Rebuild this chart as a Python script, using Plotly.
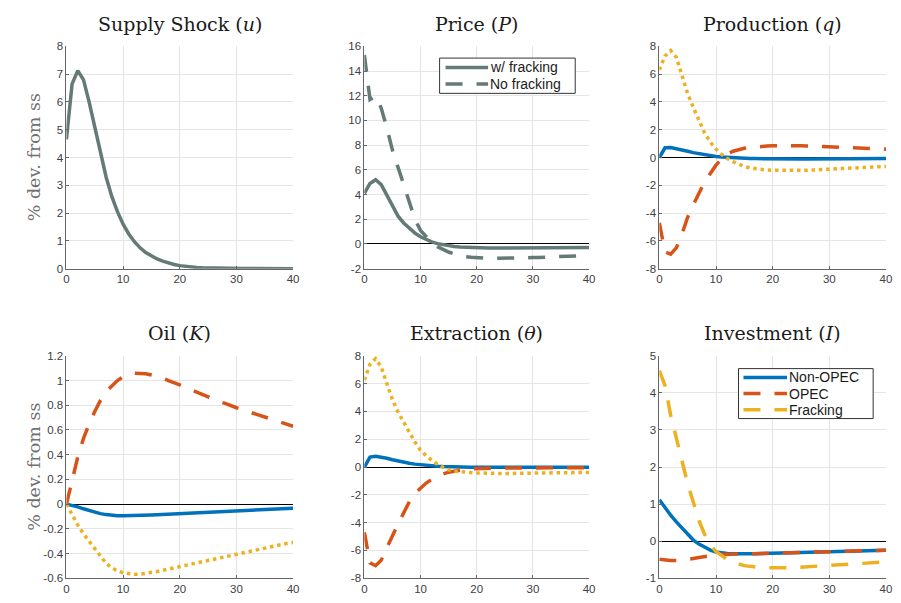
import plotly.graph_objects as go

# ---------------- data ----------------
quarters = list(range(41))

shock_u = [4.65, 6.65, 7.12, 6.8, 6.0, 5.1, 4.15, 3.3, 2.6, 2.05, 1.6, 1.25, 0.97, 0.75, 0.58,
           0.45, 0.35, 0.27, 0.2, 0.15, 0.11, 0.08, 0.06, 0.045, 0.033, 0.025, 0.018, 0.013,
           0.01, 0.008, 0.006, 0.005, 0.004, 0.003, 0.003, 0.002, 0.002, 0.001, 0.001, 0.001, 0.001]

price_frack = [4.1, 4.9, 5.2, 4.8, 3.95, 3.1, 2.25, 1.7, 1.25, 0.88, 0.58, 0.35, 0.17, 0.03, -0.07,
               -0.15, -0.2, -0.24, -0.27, -0.29, -0.31, -0.32, -0.33, -0.33, -0.33, -0.33, -0.33,
               -0.33, -0.33, -0.33, -0.33, -0.32, -0.32, -0.31, -0.31, -0.3, -0.3, -0.29, -0.29,
               -0.28, -0.28]
price_nofrack = [15.3, 11.7, 12.0, 11.0, 9.4, 7.6, 6.2, 4.8, 3.4, 2.0, 1.1, 0.55, 0.1, -0.22, -0.45,
                 -0.65, -0.8, -0.92, -1.02, -1.08, -1.12, -1.15, -1.16, -1.17, -1.17, -1.16, -1.15,
                 -1.14, -1.13, -1.12, -1.1, -1.09, -1.07, -1.06, -1.04, -1.02, -1.0, -0.98, -0.96,
                 -0.94, -0.92]

prod_nonopec = [0.0, 0.7, 0.72, 0.65, 0.55, 0.45, 0.35, 0.27, 0.2, 0.13, 0.08, 0.03, 0.0, -0.03,
                -0.05, -0.06, -0.07, -0.08, -0.09, -0.09, -0.1, -0.1, -0.1, -0.1, -0.1, -0.1, -0.1,
                -0.1, -0.1, -0.09, -0.09, -0.09, -0.09, -0.09, -0.09, -0.08, -0.08, -0.08, -0.08,
                -0.08, -0.08]
prod_opec = [-4.7, -6.8, -6.95, -6.5, -5.5, -4.3, -3.4, -2.5, -1.75, -1.15, -0.55, -0.1, 0.25, 0.45,
             0.58, 0.66, 0.72, 0.77, 0.8, 0.82, 0.84, 0.85, 0.85, 0.85, 0.85, 0.84, 0.83, 0.81, 0.8,
             0.78, 0.76, 0.75, 0.73, 0.71, 0.69, 0.68, 0.66, 0.64, 0.63, 0.61, 0.6]
prod_frack = [6.3, 7.3, 7.7, 7.2, 5.9, 4.6, 3.6, 2.6, 1.75, 1.1, 0.6, 0.22, -0.08, -0.3, -0.5, -0.65,
              -0.75, -0.82, -0.87, -0.9, -0.92, -0.93, -0.94, -0.94, -0.94, -0.93, -0.92, -0.9,
              -0.88, -0.86, -0.84, -0.82, -0.8, -0.78, -0.76, -0.74, -0.72, -0.7, -0.68, -0.66, -0.64]

oil_nonopec = [0.0, -0.008, -0.022, -0.038, -0.053, -0.066, -0.077, -0.085, -0.091, -0.094, -0.095,
               -0.095, -0.094, -0.093, -0.091, -0.089, -0.087, -0.085, -0.082, -0.08, -0.077,
               -0.075, -0.072, -0.07, -0.067, -0.065, -0.062, -0.06, -0.058, -0.055, -0.053,
               -0.051, -0.049, -0.047, -0.045, -0.043, -0.041, -0.039, -0.037, -0.035, -0.033]
oil_opec = [0.0, 0.2, 0.38, 0.53, 0.65, 0.75, 0.84, 0.91, 0.96, 1.0, 1.03, 1.05, 1.06, 1.06, 1.055,
            1.045, 1.035, 1.02, 1.0, 0.985, 0.965, 0.945, 0.925, 0.905, 0.885, 0.865, 0.85, 0.83,
            0.815, 0.795, 0.78, 0.765, 0.75, 0.73, 0.715, 0.7, 0.685, 0.67, 0.655, 0.64, 0.63]
oil_frack = [0.0, -0.09, -0.17, -0.24, -0.3, -0.37, -0.43, -0.48, -0.515, -0.54, -0.555, -0.565,
             -0.568, -0.567, -0.562, -0.555, -0.546, -0.536, -0.526, -0.515, -0.505, -0.495,
             -0.483, -0.472, -0.46, -0.45, -0.44, -0.43, -0.42, -0.41, -0.4, -0.39, -0.38, -0.37,
             -0.36, -0.35, -0.34, -0.333, -0.325, -0.317, -0.31]

ext_nonopec = [0.0, 0.72, 0.78, 0.72, 0.63, 0.53, 0.43, 0.34, 0.27, 0.21, 0.16, 0.12, 0.09, 0.06,
               0.04, 0.02, 0.01, 0.0, 0.0, -0.01, -0.01, -0.01, -0.01, -0.01, -0.01, -0.01, -0.01,
               -0.01, -0.01, -0.01, -0.01, -0.01, -0.01, -0.01, -0.01, -0.01, -0.01, -0.01, -0.01,
               -0.01, -0.01]
ext_opec = [-4.7, -6.9, -7.1, -6.7, -5.8, -4.9, -4.1, -3.3, -2.5, -1.9, -1.5, -1.15, -0.9, -0.68,
            -0.5, -0.37, -0.28, -0.21, -0.16, -0.13, -0.11, -0.1, -0.09, -0.08, -0.08, -0.07, -0.07,
            -0.07, -0.06, -0.06, -0.06, -0.06, -0.05, -0.05, -0.05, -0.05, -0.05, -0.05, -0.05,
            -0.05, -0.05]
ext_frack = [6.25, 7.4, 7.8, 7.2, 6.0, 4.85, 3.95, 3.2, 2.5, 1.8, 1.2, 0.8, 0.5, 0.2, -0.02, -0.2,
             -0.3, -0.35, -0.38, -0.4, -0.42, -0.44, -0.45, -0.46, -0.47, -0.47, -0.46, -0.45,
             -0.44, -0.44, -0.43, -0.43, -0.43, -0.42, -0.42, -0.41, -0.41, -0.4, -0.4, -0.39, -0.39]

inv_nonopec = [1.12, 0.9, 0.7, 0.52, 0.35, 0.18, 0.03, -0.08, -0.17, -0.24, -0.29, -0.32, -0.335,
               -0.34, -0.345, -0.345, -0.343, -0.34, -0.336, -0.332, -0.328, -0.324, -0.32, -0.315,
               -0.31, -0.305, -0.3, -0.295, -0.29, -0.285, -0.28, -0.276, -0.272, -0.268, -0.264,
               -0.26, -0.257, -0.254, -0.251, -0.248, -0.245]
inv_opec = [-0.49, -0.51, -0.52, -0.52, -0.51, -0.49, -0.47, -0.44, -0.41, -0.39, -0.37, -0.36,
            -0.35, -0.345, -0.342, -0.34, -0.34, -0.338, -0.335, -0.332, -0.328, -0.324, -0.32,
            -0.315, -0.31, -0.305, -0.3, -0.295, -0.29, -0.285, -0.28, -0.276, -0.272, -0.268,
            -0.264, -0.26, -0.257, -0.254, -0.251, -0.248, -0.245]
inv_frack = [4.6, 4.2, 3.4, 2.75, 2.1, 1.55, 1.05, 0.55, 0.18, -0.1, -0.28, -0.4, -0.5, -0.57, -0.62,
             -0.66, -0.68, -0.7, -0.71, -0.715, -0.72, -0.725, -0.725, -0.72, -0.71, -0.7, -0.69,
             -0.68, -0.67, -0.66, -0.65, -0.64, -0.63, -0.62, -0.61, -0.6, -0.59, -0.58, -0.575,
             -0.57, -0.56]

panel_titles = ["Supply Shock (<i>u</i>)", "Price (<i>P</i>)", "Production (<i>q</i>)",
                "Oil (<i>K</i>)", "Extraction (<i>θ</i>)", "Investment (<i>I</i>)"]
x_ticks = [0, 10, 20, 30, 40]
y_ticks = [
    [0, 1, 2, 3, 4, 5, 6, 7, 8],
    [-2, 0, 2, 4, 6, 8, 10, 12, 14, 16],
    [-8, -6, -4, -2, 0, 2, 4, 6, 8],
    [-0.6, -0.4, -0.2, 0, 0.2, 0.4, 0.6, 0.8, 1, 1.2],
    [-8, -6, -4, -2, 0, 2, 4, 6, 8],
    [-1, 0, 1, 2, 3, 4, 5],
]
y_tick_labels = [
    ["0", "1", "2", "3", "4", "5", "6", "7", "8"],
    ["-2", "0", "2", "4", "6", "8", "10", "12", "14", "16"],
    ["-8", "-6", "-4", "-2", "0", "2", "4", "6", "8"],
    ["-0.6", "-0.4", "-0.2", "0", "0.2", "0.4", "0.6", "0.8", "1", "1.2"],
    ["-8", "-6", "-4", "-2", "0", "2", "4", "6", "8"],
    ["-1", "0", "1", "2", "3", "4", "5"],
]
y_label = "% dev. from ss"
price_legend = ["w/ fracking", "No fracking"]
country_legend = ["Non-OPEC", "OPEC", "Fracking"]

# ---------------- style ----------------
OFF = 8                      # page body margin of the html page
W, H = 901 - 2 * OFF, 603 - 2 * OFF
GRAY = "rgb(99,122,119)"
BLUE = "#0072BD"
ORANGE = "#D95319"
YELLOW = "#EDB120"
LW = 3.5
DASH = "17px,14px"
DOT = "3.5px,3.8px"

col_px = [(64, 293), (365, 592), (663, 892)]
row_px = [(41, 268), (357, 584)]


def px_x(p):
    return (p - OFF) / W


def px_y(p):
    return 1 - (p - OFF) / H


fig = go.Figure()


def add(panel, y, color, dash, name):
    n = panel + 1
    fig.add_trace(go.Scatter(
        x=quarters, y=y, mode="lines", name=name, showlegend=False,
        line=dict(color=color, width=LW, dash=dash),
        xaxis="x" if n == 1 else f"x{n}", yaxis="y" if n == 1 else f"y{n}",
    ))


add(0, shock_u, GRAY, "solid", "Supply shock")
add(1, price_frack, GRAY, "solid", price_legend[0])
add(1, price_nofrack, GRAY, DASH, price_legend[1])
add(2, prod_nonopec, BLUE, "solid", country_legend[0])
add(2, prod_opec, ORANGE, DASH, country_legend[1])
add(2, prod_frack, YELLOW, DOT, country_legend[2])
add(3, oil_nonopec, BLUE, "solid", country_legend[0])
add(3, oil_opec, ORANGE, DASH, country_legend[1])
add(3, oil_frack, YELLOW, DOT, country_legend[2])
add(4, ext_nonopec, BLUE, "solid", country_legend[0])
add(4, ext_opec, ORANGE, DASH, country_legend[1])
add(4, ext_frack, YELLOW, DOT, country_legend[2])
add(5, inv_nonopec, BLUE, "solid", country_legend[0])
add(5, inv_opec, ORANGE, DASH, country_legend[1])
add(5, inv_frack, YELLOW, DASH, country_legend[2])

tick_font = dict(family="Liberation Sans, Arial, sans-serif", size=11.5, color="#404040")
layout = {}
annotations = []
shapes = []
for i in range(6):
    r, c = divmod(i, 3)
    n = i + 1
    x0, x1 = col_px[c]
    y0, y1 = row_px[r]
    xs = "" if n == 1 else str(n)
    layout[f"xaxis{xs}"] = dict(
        domain=[px_x(x0), px_x(x1)], anchor=f"y{xs}", range=[0, 40],
        tickvals=x_ticks, ticktext=[str(t) for t in x_ticks],
        showgrid=True, gridcolor="#e5e5e5", gridwidth=1,
        showline=True, linecolor="#666666", linewidth=1,
        ticks="inside", ticklen=3, tickcolor="#666666",
        zeroline=False, tickfont=tick_font,
    )
    yt = y_ticks[i]
    layout[f"yaxis{xs}"] = dict(
        domain=[px_y(y1), px_y(y0)], anchor=f"x{xs}", range=[yt[0], yt[-1]],
        tickvals=yt, ticktext=y_tick_labels[i],
        showgrid=True, gridcolor="#e5e5e5", gridwidth=1,
        showline=True, linecolor="#666666", linewidth=1,
        ticks="inside", ticklen=3, tickcolor="#666666",
        zeroline=True, zerolinecolor="black", zerolinewidth=1,
        tickfont=tick_font,
    )
    annotations.append(dict(
        text=panel_titles[i], xref="paper", yref="paper",
        x=px_x((x0 + x1) / 2), y=px_y(y0 - 23), xanchor="center", yanchor="middle",
        showarrow=False,
        font=dict(family="DejaVu Serif, serif", size=19, color="#1a1a1a"),
    ))
    if c == 0:
        annotations.append(dict(
            text=y_label, xref="paper", yref="paper",
            x=px_x(31), y=px_y((y0 + y1) / 2), xanchor="center", yanchor="middle",
            textangle=-90, showarrow=False,
            font=dict(family="DejaVu Serif, serif", size=17.5, color="#707070"),
        ))


# ---------------- legends (drawn as box + samples + text) ----------------
def legend_box(bx0, by0, bx1, by1, rows, line_x0, line_x1, text_x):
    shapes.append(dict(type="rect", xref="paper", yref="paper",
                       x0=px_x(bx0), x1=px_x(bx1), y0=px_y(by1), y1=px_y(by0),
                       line=dict(color="#333333", width=1), fillcolor="white", layer="above"))
    for label, color, dash, yy in rows:
        shapes.append(dict(type="line", xref="paper", yref="paper",
                           x0=px_x(line_x0), x1=px_x(line_x1), y0=px_y(yy), y1=px_y(yy),
                           line=dict(color=color, width=LW, dash=dash), layer="above"))
        annotations.append(dict(text=label, xref="paper", yref="paper",
                                x=px_x(text_x), y=px_y(yy), xanchor="left", yanchor="middle",
                                showarrow=False, borderpad=0,
                                font=dict(family="Liberation Sans, Arial, sans-serif",
                                          size=14, color="#1a1a1a")))


legend_box(441, 53, 578, 89,
           [(price_legend[0], GRAY, "solid", 62.5), (price_legend[1], GRAY, DASH, 79.5)],
           447, 490, 491)
legend_box(743, 370, 879, 421,
           [(country_legend[0], BLUE, "solid", 379), (country_legend[1], ORANGE, DASH, 395.5),
            (country_legend[2], YELLOW, DASH, 412)],
           748, 792, 793)

fig.update_layout(
    width=W, height=H, margin=dict(l=0, r=0, t=0, b=0),
    paper_bgcolor="white", plot_bgcolor="white",
    annotations=annotations, shapes=shapes, showlegend=False,
    **layout,
)

fig.write_html("out.html")
